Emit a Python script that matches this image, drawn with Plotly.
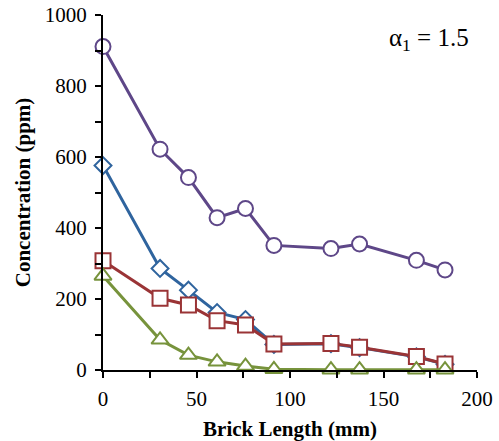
import plotly.graph_objects as go

# Brick length positions (mm)
brick_length = [0, 30.5, 45.7, 61.0, 76.2, 91.4, 121.9, 137.2, 167.6, 182.9]

# Concentration profiles (ppm)
conc_circle = [911, 622, 542, 429, 455, 351, 342, 355, 309, 282]
conc_diamond = [576, 286, 225, 162, 142, 72, 74, 63, 37, 16]
conc_square = [308, 202, 183, 139, 127, 73, 75, 64, 38, 17]
conc_triangle = [265, 85, 42, 23, 11, 2, 1, 1, 1, 1]

x_ticks = [0, 50, 100, 150, 200]
y_ticks = [0, 200, 400, 600, 800, 1000]

purple = "#5E4788"
blue = "#2F649E"
red = "#9A3436"
green = "#77933C"

fig = go.Figure()


def add_series(y, color, symbol, size):
    fig.add_trace(go.Scatter(
        x=brick_length, y=y, mode="lines+markers",
        line=dict(color=color, width=3),
        marker=dict(symbol=symbol, size=size, color="white",
                    line=dict(color=color, width=2)),
        showlegend=False, cliponaxis=False,
    ))


add_series(conc_circle, purple, "circle", 15)
add_series(conc_diamond, blue, "diamond", 13)
add_series(conc_square, red, "square", 15)
add_series(conc_triangle, green, "triangle-up", 15)

font_family = "Liberation Serif, Times New Roman, serif"

fig.update_layout(
    width=499, height=441,
    margin=dict(l=103, r=22, t=15, b=71),
    plot_bgcolor="white", paper_bgcolor="white",
    font=dict(family=font_family, color="black", size=21),
    xaxis=dict(
        range=[0, 200], tickvals=x_ticks, showgrid=False, zeroline=False,
        showline=True, linecolor="black", linewidth=2, automargin=False,
        ticks="outside", ticklen=6, tickwidth=2, tickcolor="black",
        ticklabelstandoff=3,
        minor=dict(ticks="outside", dtick=25, tick0=0, ticklen=6,
                   tickwidth=2, tickcolor="black"),
        tickfont=dict(size=21, family=font_family),
        title=dict(text="<b>Brick Length (mm)</b>", standoff=13,
                   font=dict(size=21, family=font_family)),
    ),
    yaxis=dict(
        range=[0, 1000], tickvals=y_ticks, showgrid=False, zeroline=False,
        showline=True, linecolor="black", linewidth=2, automargin=False,
        ticks="outside", ticklen=6, tickwidth=2, tickcolor="black",
        ticklabelstandoff=4,
        minor=dict(ticks="outside", dtick=100, tick0=0, ticklen=6,
                   tickwidth=2, tickcolor="black"),
        tickfont=dict(size=21, family=font_family),
        title=dict(text="<b>Concentration (ppm)</b>", standoff=8,
                   font=dict(size=21, family=font_family)),
    ),
    annotations=[dict(
        x=0.985, y=0.93, xref="paper", yref="paper",
        xanchor="right", yanchor="middle", showarrow=False,
        text="α<sub>1</sub> = 1.5",
        font=dict(size=25, family=font_family, color="black"),
    )],
)

fig.write_html("out.html")
